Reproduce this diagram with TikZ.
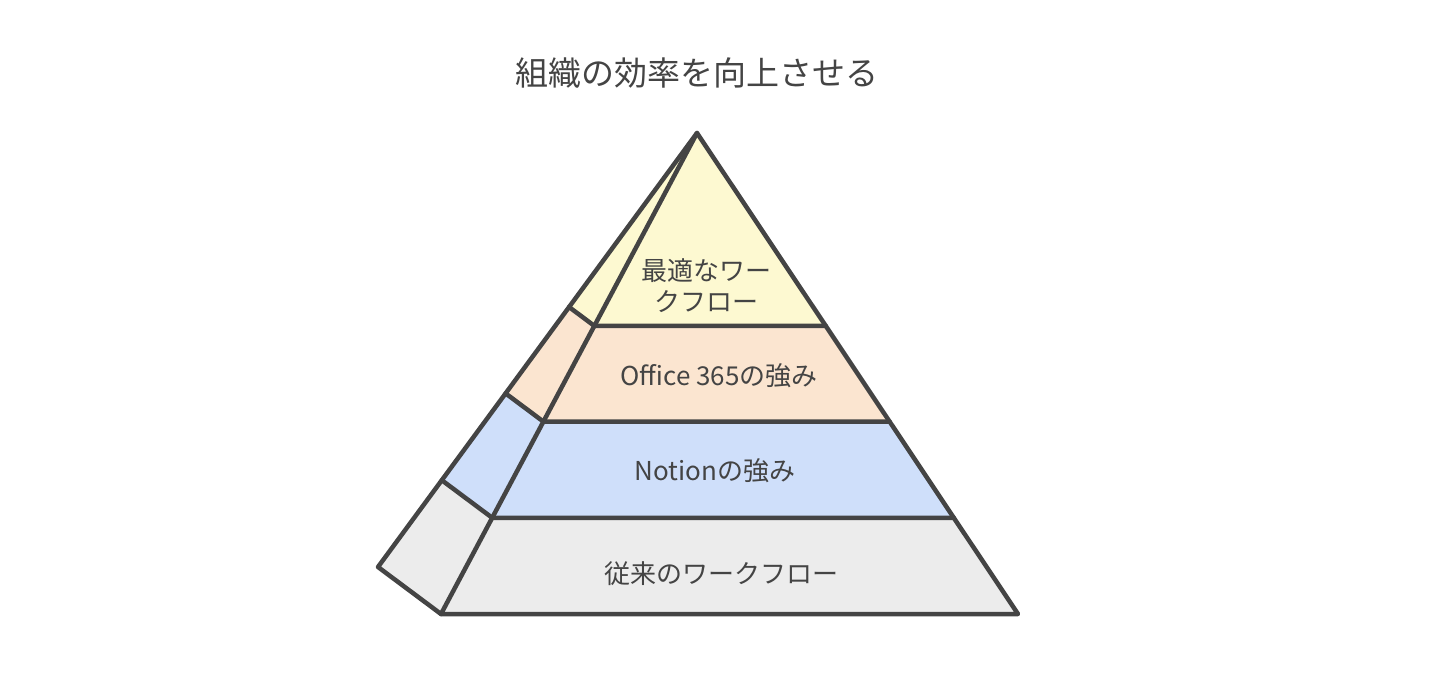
\documentclass[tikz,border=0pt]{standalone}
\usepackage{fontspec}
\usetikzlibrary{calc}
\newfontfamily\jpfont{Noto Sans CJK JP}
\definecolor{EdgeGray}{RGB}{68,68,68}
\definecolor{TopYellow}{RGB}{253,249,209}
\definecolor{SoftPeach}{RGB}{251,229,208}
\definecolor{SoftBlue}{RGB}{207,223,250}
\definecolor{BaseGray}{RGB}{236,236,236}
\tikzset{
  edge/.style={draw=EdgeGray,line width=4.5pt,line join=round,line cap=round},
  layertext/.style={font=\jpfont\fontsize{26}{31}\selectfont,text=EdgeGray,align=center}
}

\begin{document}
\begin{tikzpicture}[x=1pt,y=-1pt]
  \useasboundingbox (0,0) rectangle (1429,690);
  \coordinate (apex) at (697,133);
  \coordinate (front) at (441,614);
  \coordinate (back) at (378,567);
  \coordinate (right) at (1018,614);
  % layer fills, front face and side face together
  \foreach \ta/\tb/\col in {0/.401/TopYellow,.401/.6/SoftPeach,.6/.8/SoftBlue,.8/1/BaseGray}
    \fill[\col] ($(apex)!\ta!(back)$) -- ($(apex)!\ta!(front)$) -- ($(apex)!\ta!(right)$)
      -- ($(apex)!\tb!(right)$) -- ($(apex)!\tb!(front)$) -- ($(apex)!\tb!(back)$) -- cycle;
  % outline
  \draw[edge] (apex) -- (right) -- (front) -- (back) -- cycle;
  \draw[edge] (apex) -- (front);
  \foreach \t in {.401,.6,.8}
    \draw[edge] ($(apex)!\t!(back)$) -- ($(apex)!\t!(front)$) -- ($(apex)!\t!(right)$);
  % labels
  \node[font=\jpfont\fontsize{33}{40}\selectfont,text=EdgeGray] (title) at (697,73) {組織の効率を向上させる};
  \node[layertext] (optimal) at (706,286) {最適なワー\\クフロー};
  \node[layertext] (office) at (719,376) {Office 365の強み};
  \node[layertext] (notion) at (715,471) {Notionの強み};
  \node[layertext] (legacy) at (721,574) {従来のワークフロー};
\end{tikzpicture}
\end{document}
